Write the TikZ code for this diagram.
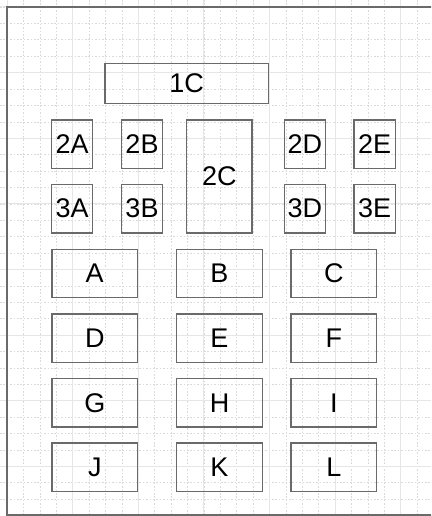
\documentclass[tikz,border=0pt]{standalone}
\usepackage{fontspec}
\setmainfont{Liberation Sans}
\definecolor{boxline}{HTML}{6A6A6A}
\definecolor{gridminor}{HTML}{DADADA}
\definecolor{gridmajor}{HTML}{E6E6E6}
\begin{document}
\begin{tikzpicture}[x=1pt,y=-1pt,
  box/.style={draw=boxline, line width=1.2pt, inner sep=0pt, font=\fontsize{27}{31}\selectfont, text=black},
  minorgrid/.style={gridminor, line width=0.6pt, dash pattern=on 1.6pt off 1.8pt},
  majorgrid/.style={gridmajor, line width=1pt},
  frameline/.style={draw=boxline, line width=1.4pt}]
\useasboundingbox (0,0) rectangle (431,516);
\begin{scope}
\clip (0,0) rectangle (431,516);
% grid
\foreach \k in {0,...,31} {
  \pgfmathsetmacro{\p}{7+16.4*(\k-1)}
  \draw[minorgrid] (\p,0) -- (\p,516);
  \draw[minorgrid] (0,\p) -- (431,\p);
}
\foreach \m in {0,...,8} {
  \pgfmathsetmacro{\p}{7+65.6*\m}
  \draw[majorgrid] (\p,0) -- (\p,516);
  \draw[majorgrid] (0,\p) -- (431,\p);
}
% outer frame
\coordinate (ftl) at (7,7);
\coordinate (ftr) at (440,7);
\coordinate (fbl) at (7,515);
\coordinate (fbr) at (440,515);
\draw[frameline] (ftr) -- (ftl) -- (fbl) -- (fbr);
\end{scope}
% top row
\node[box, minimum width=163.3pt, minimum height=40pt] (n1C) at (186.65,83.3) {1C};
% second / third rows
\node[box, minimum width=41pt, minimum height=48.3pt] (n2A) at (72.2,144.15) {2A};
\node[box, minimum width=40.6pt, minimum height=48.3pt] (n2B) at (142,144.15) {2B};
\node[box, minimum width=65.3pt, minimum height=113pt] (n2C) at (219.35,176.5) {2C};
\node[box, minimum width=41pt, minimum height=48.3pt] (n2D) at (304.8,144.15) {2D};
\node[box, minimum width=41.3pt, minimum height=48.3pt] (n2E) at (374.65,144.15) {2E};
\node[box, minimum width=41pt, minimum height=48.7pt] (n3A) at (72.2,208.65) {3A};
\node[box, minimum width=40.6pt, minimum height=48.7pt] (n3B) at (142,208.65) {3B};
\node[box, minimum width=41pt, minimum height=48.7pt] (n3D) at (304.8,208.65) {3D};
\node[box, minimum width=41.3pt, minimum height=48.7pt] (n3E) at (374.65,208.65) {3E};
% grid of lettered boxes
\foreach \lab/\cx/\cy in {A/94.75/273.5, B/219.5/273.5, C/333.85/273.5,
                          D/94.75/338.15, E/219.5/338.15, F/333.85/338.15,
                          G/94.75/402.85, H/219.5/402.85, I/333.85/402.85,
                          J/94.75/467.15, K/219.5/467.15, L/333.85/467.15} {
  \node[box, minimum width=85.6pt, minimum height=48.4pt] (n\lab) at (\cx,\cy) {\lab};
}
\end{tikzpicture}
\end{document}
